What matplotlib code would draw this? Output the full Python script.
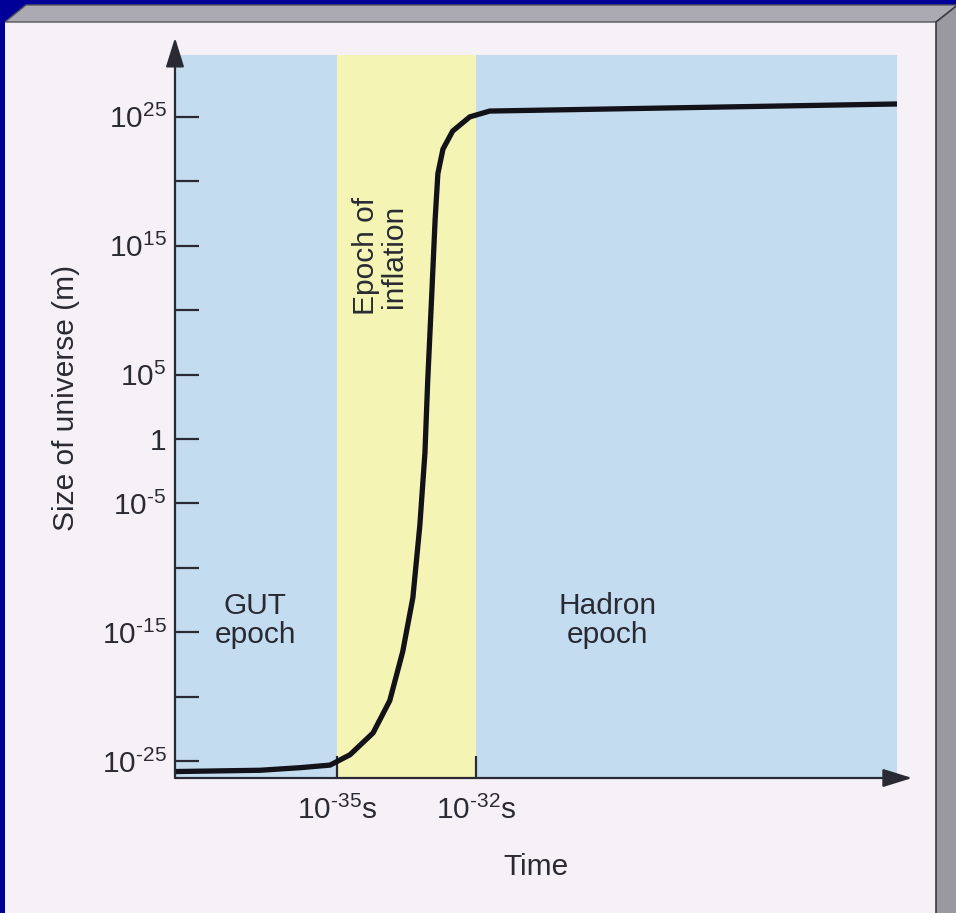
import matplotlib
matplotlib.use("Agg")
import matplotlib.pyplot as plt
from matplotlib.patches import Polygon, Rectangle

plt.rcParams['font.family'] = ['Liberation Sans', 'DejaVu Sans']
plt.rcParams['mathtext.fontset'] = 'custom'
plt.rcParams['mathtext.rm'] = 'Liberation Sans'

# curve: log10(time / s) vs log10(size / m)
log_t = [-38.5, -36.66, -35.8, -35.15, -34.72, -34.22, -33.86, -33.58, -33.36,
         -33.21, -33.10, -33.04, -32.95, -32.88, -32.82, -32.71, -32.50, -32.13,
         -31.70, -29.3, -22.9]
log_size = [-25.8, -25.7, -25.5, -25.3, -24.5, -22.8, -20.3, -16.5, -12.3,
            -6.7, -1.1, 4.5, 11.4, 17.0, 20.6, 22.5, 23.9, 25.0,
            25.45, 25.6, 26.0]

inflation_start = -35
inflation_end = -32

hy = '\u2010'
y_ticks = [25, 20, 15, 10, 5, 0, -5, -10, -15, -20, -25]
y_labels = [r'$\mathregular{10^{25}}$', '', r'$\mathregular{10^{15}}$', '',
            r'$\mathregular{10^{5}}$', '1', r'$\mathregular{10^{' + hy + '5}}$', '',
            r'$\mathregular{10^{' + hy + '15}}$', '',
            r'$\mathregular{10^{' + hy + '25}}$']
x_ticks = [inflation_start, inflation_end]
x_labels = [r'$\mathregular{10^{' + hy + '35}s}$',
            r'$\mathregular{10^{' + hy + '32}s}$']

W, H = 956, 913
fig = plt.figure(figsize=(W / 100, H / 100), dpi=100)
fig.patch.set_facecolor('#000099')

# slide frame (3d box look)
bg = fig.add_axes([0, 0, 1, 1])
bg.set_xlim(0, W)
bg.set_ylim(H, 0)
bg.axis('off')
bg.add_patch(Rectangle((5, 22), 931, 900, facecolor='#f5f1f6', edgecolor='none'))
bg.add_patch(Polygon([(5, 22), (26, 5), (960, 5), (936, 22)], closed=True,
                     facecolor='#abaab2', edgecolor='#55555c', lw=1))
bg.add_patch(Polygon([(936, 22), (960, 3), (960, 920), (936, 920)], closed=True,
                     facecolor='#9a99a1', edgecolor='#3a3a44', lw=1.2))

ax = fig.add_axes([175 / W, 1 - 778 / H, 722 / W, 723 / H])
ax.set_facecolor('#c4dcf0')
ax.axvspan(inflation_start, inflation_end, color='#f4f5b4', lw=0)
ax.plot(log_t, log_size, color='#121218', lw=3.8, solid_joinstyle='round',
        solid_capstyle='butt')

ax.set_xlim(-38.5, -22.9)
ax.set_ylim(-26.3, 29.8)
for s in ax.spines.values():
    s.set_visible(False)

fs = 21.5
txt = '#2a2a34'
ax.set_yticks(y_ticks)
ax.set_yticklabels(y_labels)
ax.set_xticks(x_ticks)
ax.set_xticklabels(x_labels)
ax.tick_params(axis='y', direction='in', length=17, width=1.6, color=txt,
               labelsize=fs, labelcolor=txt, pad=6)
ax.tick_params(axis='x', direction='in', length=16, width=1.6, color=txt,
               labelsize=fs, labelcolor=txt, pad=13)

arrow = dict(arrowstyle='-|>,head_length=0.9,head_width=0.28', color=txt,
             lw=1.6, shrinkA=0, shrinkB=0, mutation_scale=20)
ax.annotate('', xy=(0, 1.024), xytext=(0, 0), xycoords='axes fraction',
            arrowprops=arrow, annotation_clip=False)
ax.annotate('', xy=(1.021, 0), xytext=(0, 0), xycoords='axes fraction',
            arrowprops=arrow, annotation_clip=False)

ax.set_xlabel('Time', fontsize=fs, color=txt, labelpad=20)
ax.set_ylabel('Size of universe (m)', fontsize=fs, color=txt)
ax.yaxis.set_label_coords(-0.131, 0.525)

ax.text(-36.77, -14.1, 'GUT\nepoch', ha='center', va='center', fontsize=fs,
        color=txt, linespacing=1.05)
ax.text(-29.15, -14.1, 'Hadron\nepoch', ha='center', va='center', fontsize=fs,
        color=txt, linespacing=1.05)
ax.text(-34.08, 14.2, 'Epoch of\ninflation', ha='center', va='center',
        fontsize=fs, color=txt, rotation=90, linespacing=1.0)

fig.savefig('out.png', dpi=100, facecolor=fig.get_facecolor())
